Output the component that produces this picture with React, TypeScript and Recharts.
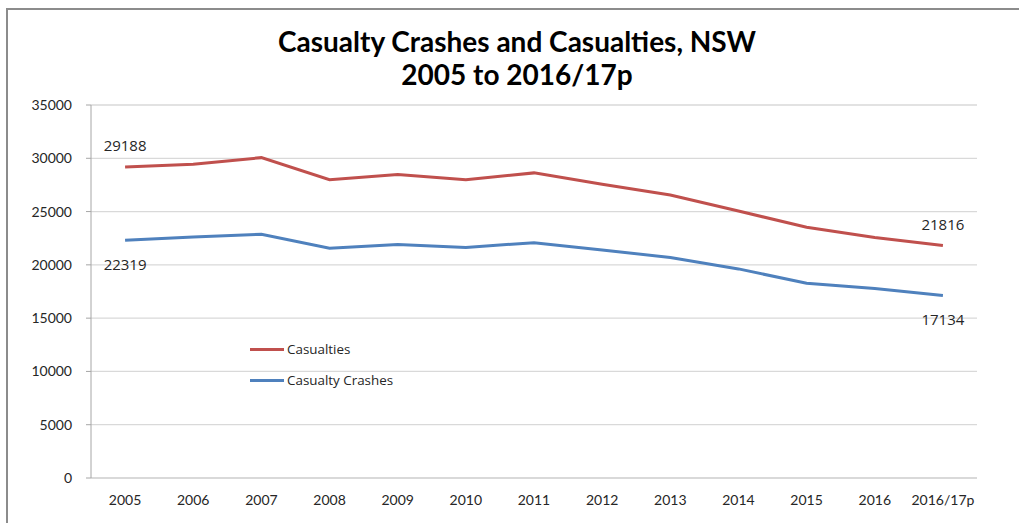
import React from "react";
import { LineChart, Line, XAxis, YAxis, CartesianGrid } from "recharts";

// Calendar / financial years along the x axis
const years = [
  "2005", "2006", "2007", "2008", "2009", "2010", "2011",
  "2012", "2013", "2014", "2015", "2016", "2016/17p",
];

// Number of casualties per year
const casualties = [
  29188, 29450, 30060, 27990, 28480, 27980, 28630,
  27560, 26560, 25050, 23530, 22560, 21816,
];

// Number of casualty crashes per year
const casualtyCrashes = [
  22319, 22620, 22870, 21550, 21920, 21640, 22080,
  21400, 20690, 19620, 18270, 17790, 17134,
];

const yTicks = [0, 5000, 10000, 15000, 20000, 25000, 30000, 35000];

const RED = "#C0504D";
const BLUE = "#4F81BD";

const seriesInfo = [
  { name: "Casualties", color: RED },
  { name: "Casualty Crashes", color: BLUE },
];

const data = years.map((year, i) => ({
  year,
  casualties: casualties[i],
  crashes: casualtyCrashes[i],
}));

const LABEL_FONT = "'Open Sans', sans-serif";
const AXIS_FONT = "Lato, sans-serif";

// Values are only labelled at the first and last points of each series
const makeEndLabel = (dy: number) => (props: any) => {
  const { x, y, value, index } = props;
  if (index !== 0 && index !== years.length - 1) return null;
  return (
    <text
      key={`lbl-${index}-${dy}`}
      x={x}
      y={y + dy}
      textAnchor="middle"
      dominantBaseline="central"
      fontFamily={LABEL_FONT}
      fontSize={15}
      fill="#262626"
    >
      {value}
    </text>
  );
};

const LegendBox = () => (
  <div
    style={{
      position: "absolute",
      left: 250,
      top: 339,
      fontFamily: LABEL_FONT,
      fontSize: 13.4,
      color: "#262626",
    }}
  >
    {seriesInfo.map((item, i) => (
      <div
        key={item.name}
        style={{
          display: "flex",
          alignItems: "center",
          height: 20,
          marginBottom: i === 0 ? 11 : 0,
        }}
      >
        <span
          style={{
            display: "inline-block",
            width: 34,
            height: 3,
            background: item.color,
            marginRight: 3,
          }}
        />
        <span>{item.name}</span>
      </div>
    ))}
  </div>
);

export default function App() {
  return (
    <div
      style={{
        position: "absolute",
        left: 0,
        top: 0,
        width: 1019,
        height: 523,
        background: "#fff",
        overflow: "hidden",
      }}
    >
      {/* chart frame */}
      <div
        style={{
          position: "absolute",
          left: 6,
          top: 8,
          width: 1040,
          height: 540,
          border: "2px solid #8c8c8c",
          boxSizing: "border-box",
        }}
      />
      {/* title */}
      <div
        style={{
          position: "absolute",
          left: 0,
          top: 25,
          width: 1034,
          textAlign: "center",
          fontFamily: AXIS_FONT,
          fontWeight: 700,
          fontSize: 28,
          lineHeight: "33px",
          color: "#000",
        }}
      >
        <div>Casualty Crashes and Casualties, NSW</div>
        <div>2005 to 2016/17p</div>
      </div>
      <div style={{ position: "absolute", left: 0, top: 0 }}>
        <LineChart
          width={1019}
          height={523}
          data={data}
          margin={{ top: 105, right: 42, bottom: 15, left: 0 }}
        >
          <CartesianGrid vertical={false} stroke="#d9d9d9" strokeWidth={1.3} />
          <XAxis
            dataKey="year"
            scale="band"
            height={30}
            tickLine={false}
            axisLine={{ stroke: "#d9d9d9", strokeWidth: 2 }}
            tick={{ fontFamily: AXIS_FONT, fontSize: 14, fill: "#262626" }}
            tickMargin={11}
            interval={0}
          />
          <YAxis
            width={91}
            domain={[0, 35000]}
            ticks={yTicks}
            interval={0}
            axisLine={{ stroke: "#a6a6a6" }}
            tickLine={{ stroke: "#a6a6a6" }}
            tickSize={5}
            tickMargin={14}
            tick={{ fontFamily: AXIS_FONT, fontSize: 14, fill: "#262626" }}
          />
          <Line
            dataKey="casualties"
            name="Casualties"
            stroke={RED}
            strokeWidth={3}
            dot={false}
            activeDot={false}
            isAnimationActive={false}
            label={makeEndLabel(-22)}
          />
          <Line
            dataKey="crashes"
            name="Casualty Crashes"
            stroke={BLUE}
            strokeWidth={3}
            dot={false}
            activeDot={false}
            isAnimationActive={false}
            label={makeEndLabel(24)}
          />
        </LineChart>
      </div>
      <LegendBox />
    </div>
  );
}
